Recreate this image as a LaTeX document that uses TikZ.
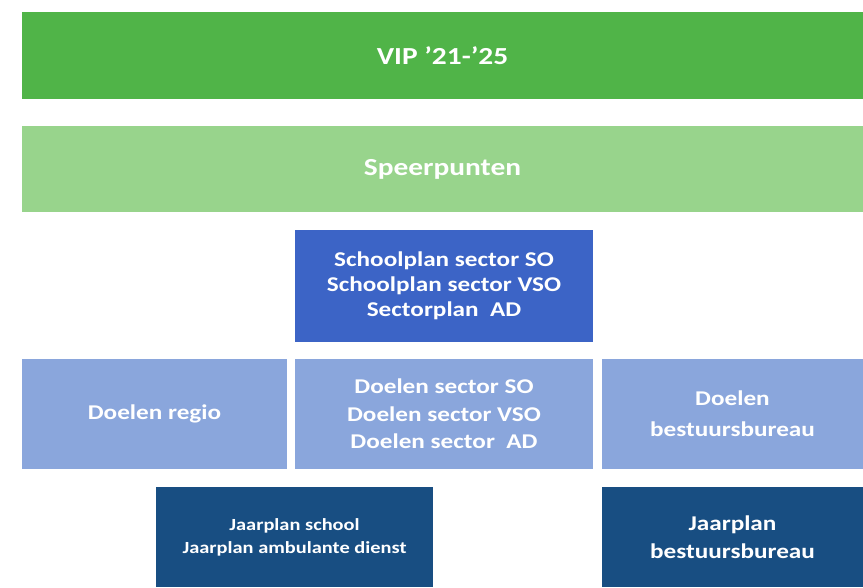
\documentclass[tikz,border=0pt]{standalone}
\usepackage{fontspec}
\setmainfont{Carlito}[FakeStretch=1.2]
\definecolor{vipgreen}{RGB}{80,180,72}
\definecolor{speergreen}{RGB}{152,212,140}
\definecolor{planblue}{RGB}{60,100,198}
\definecolor{doelblue}{RGB}{138,166,220}
\definecolor{jaarblue}{RGB}{24,78,130}
\begin{document}
\begin{tikzpicture}[x=1pt,y=1pt,
  blk/.style={anchor=north west, inner sep=0pt, outer sep=0pt, align=center, text=white},
  bigtxt/.style={font=\bfseries\fontsize{24.5}{28}\selectfont},
  midtxt/.style={font=\bfseries\fontsize{21}{25}\selectfont}]
\useasboundingbox (0,0) rectangle (863,-587);
\clip (0,0) rectangle (863,-587);
\node[blk, bigtxt, fill=vipgreen, minimum width=841pt, minimum height=87pt] (vip) at (22,-12) {VIP '21-'25};
\node[blk, bigtxt, fill=speergreen, minimum width=841pt, minimum height=86pt] (speer) at (22,-126) {Speerpunten};
\node[blk, midtxt, fill=planblue, minimum width=298pt, minimum height=112pt] (school) at (295,-230) {Schoolplan sector SO\\Schoolplan sector VSO\\Sectorplan \ AD};
\node[blk, midtxt, fill=doelblue, minimum width=265pt, minimum height=110pt] (regio) at (22,-359) {Doelen regio};
\node[blk, font=\bfseries\fontsize{21}{27.5}\selectfont, fill=doelblue, minimum width=298pt, minimum height=110pt] (sector) at (295,-359) {Doelen sector SO\\Doelen sector VSO\\Doelen sector \ AD};
\node[blk, font=\bfseries\fontsize{21}{31}\selectfont, fill=doelblue, minimum width=261pt, minimum height=110pt] (bureau) at (602,-359) {Doelen\\bestuursbureau};
\node[blk, font=\bfseries\fontsize{17}{23}\selectfont, fill=jaarblue, minimum width=277pt, minimum height=100pt] (jschool) at (156,-487) {Jaarplan school\\Jaarplan ambulante dienst};
\node[blk, font=\bfseries\fontsize{21}{28}\selectfont, fill=jaarblue, minimum width=261pt, minimum height=100pt] (jbureau) at (602,-487) {Jaarplan\\bestuursbureau};
\end{tikzpicture}
\end{document}
